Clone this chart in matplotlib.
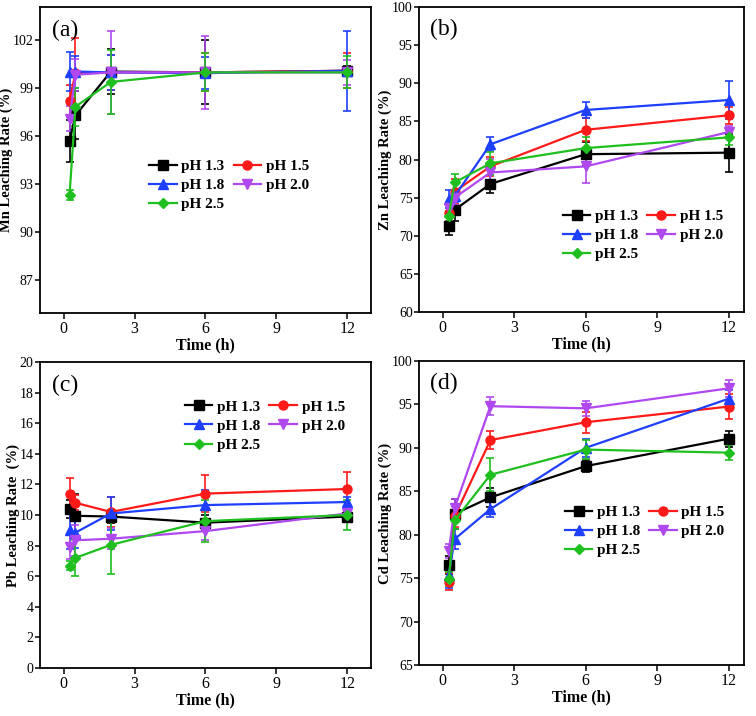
import matplotlib
matplotlib.use("Agg")
from matplotlib import pyplot as plt

plt.rcParams['font.family'] = 'serif'
plt.rcParams['font.serif'] = ['Liberation Serif', 'DejaVu Serif']

time = [0.25, 0.5, 2, 6, 12]
labels = ['pH 1.3', 'pH 1.5', 'pH 1.8', 'pH 2.0', 'pH 2.5']
colors = ['#000000', '#ff1a1a', '#1f3fff', '#b048f0', '#1fbf1f']
markers = ['s', 'o', '^', 'v', 'D']

# Mn
mn_vals = [[95.7, 97.3, 100.05, 100.0, 100.1],
           [98.2, 99.95, 100.0, 100.0, 100.1],
           [100.05, 100.05, 100.0, 99.95, 100.1],
           [97.1, 99.85, 100.0, 100.0, 100.0],
           [92.3, 97.85, 99.4, 100.0, 100.0]]
mn_err = [[1.3, 1.5, 1.4, 2.0, 0.3],
          [1.0, 2.2, 1.1, 1.2, 1.1],
          [1.2, 1.0, 1.1, 1.0, 2.5],
          [0.8, 1.0, 2.6, 2.3, 0.8],
          [0.3, 1.2, 2.0, 1.2, 1.0]]
# Zn
zn_vals = [[71.3, 73.4, 76.8, 80.7, 80.9],
           [73.0, 75.8, 79.1, 83.9, 85.8],
           [74.8, 75.2, 82.0, 86.5, 87.8],
           [73.6, 75.0, 78.3, 79.1, 83.6],
           [72.6, 77.0, 79.5, 81.5, 82.9]]
zn_err = [[1.2, 1.4, 1.2, 1.6, 2.5],
          [1.0, 1.6, 1.2, 1.5, 1.1],
          [1.2, 0.8, 0.9, 1.0, 2.5],
          [0.8, 1.0, 1.8, 2.2, 0.8],
          [0.6, 1.1, 1.5, 1.4, 1.0]]
# Pb
pb_vals = [[10.4, 9.95, 9.9, 9.5, 9.9],
           [11.4, 10.8, 10.2, 11.4, 11.7],
           [9.0, 8.85, 10.1, 10.65, 10.85],
           [7.9, 8.35, 8.45, 8.95, 10.1],
           [6.7, 7.2, 8.05, 9.6, 10.0]]
pb_err = [[0.6, 1.4, 0.4, 0.5, 0.3],
          [1.0, 0.5, 1.0, 1.2, 1.1],
          [1.2, 1.0, 1.1, 1.0, 0.3],
          [0.8, 1.0, 0.7, 0.6, 0.3],
          [0.3, 1.2, 1.9, 1.35, 1.0]]
# Cd
cd_vals = [[76.5, 82.4, 84.3, 87.9, 91.05],
           [74.6, 82.1, 90.9, 92.95, 94.75],
           [75.4, 79.5, 82.95, 90.0, 95.65],
           [78.1, 83.1, 94.8, 94.55, 96.85],
           [74.95, 81.65, 86.9, 89.8, 89.45]]
cd_err = [[1.0, 1.7, 1.1, 0.7, 0.9],
          [1.0, 1.2, 1.0, 1.2, 1.4],
          [1.5, 1.2, 0.9, 1.0, 1.0],
          [0.8, 1.0, 1.0, 0.9, 1.0],
          [0.8, 1.0, 1.9, 1.1, 0.9]]

panels = [
    # vals, err, ylabel, tag, ylim, yticks, xlim, rect, legend anchor
    (mn_vals, mn_err, 'Mn Leaching Rate (%)', '(a)', (84.9, 104.1), range(87, 103, 3),
     (-1, 13), [0.0529, 0.5628, 0.4378, 0.4274], (0.33, 0.418)),
    (zn_vals, zn_err, 'Zn Leaching Rate (%)', '(b)', (60, 100), range(60, 101, 5),
     (-1, 12.65), [0.5542, 0.5642, 0.4299, 0.426], (0.443, 0.252)),
    (pb_vals, pb_err, 'Pb Leaching Rate  (%)', '(c)', (0, 20), range(0, 21, 2),
     (-1, 13), [0.0529, 0.067, 0.4378, 0.4274], (0.438, 0.791)),
    (cd_vals, cd_err, 'Cd Leaching Rate (%)', '(d)', (65, 100), range(65, 101, 5),
     (-1, 12.65), [0.5542, 0.0712, 0.4299, 0.4246], (0.449, 0.44)),
]

fig = plt.figure(figsize=(7.56, 7.16), dpi=100)

for vals, err, ylab, tag, ylim, yticks, xlim, rect, anchor in panels:
    ax = fig.add_axes(rect)
    handles = []
    for i in range(5):
        h = ax.errorbar(time, vals[i], yerr=err[i], color=colors[i], marker=markers[i],
                        markersize=6.5 if markers[i] != 'D' else 5.5, lw=1.6,
                        elinewidth=1.2, capsize=3, capthick=1.2, label=labels[i])
        handles.append(h[0])
    ax.set_xlim(*xlim)
    ax.set_ylim(*ylim)
    ax.set_xticks([0, 3, 6, 9, 12])
    ax.set_yticks(list(yticks))
    ax.tick_params(axis='x', direction='out', length=4, width=1.1, labelsize=11.5, pad=2,
                   top=False)
    ax.tick_params(axis='y', direction='out', length=3.5, width=1.1, labelsize=10, pad=1,
                   right=False)
    for s in ax.spines.values():
        s.set_linewidth(1.3)
    ax.set_xlabel('Time (h)', fontsize=11.5, fontweight='bold', labelpad=0)
    ax.set_ylabel(ylab, fontsize=10.5, fontweight='bold', labelpad=0)
    ax.text(0.035, 0.925, tag, transform=ax.transAxes, fontsize=17, va='center', ha='left')
    order = [0, 2, 4, 1, 3]
    ax.legend([handles[k] for k in order], [labels[k] for k in order], ncol=2,
              frameon=False, loc='center left', bbox_to_anchor=anchor, borderpad=0,
              borderaxespad=0, handlelength=1.8, handletextpad=0.3, columnspacing=0.6,
              labelspacing=0.35, prop={'weight': 'bold', 'size': 11})

fig.savefig('out.png', dpi=100)
